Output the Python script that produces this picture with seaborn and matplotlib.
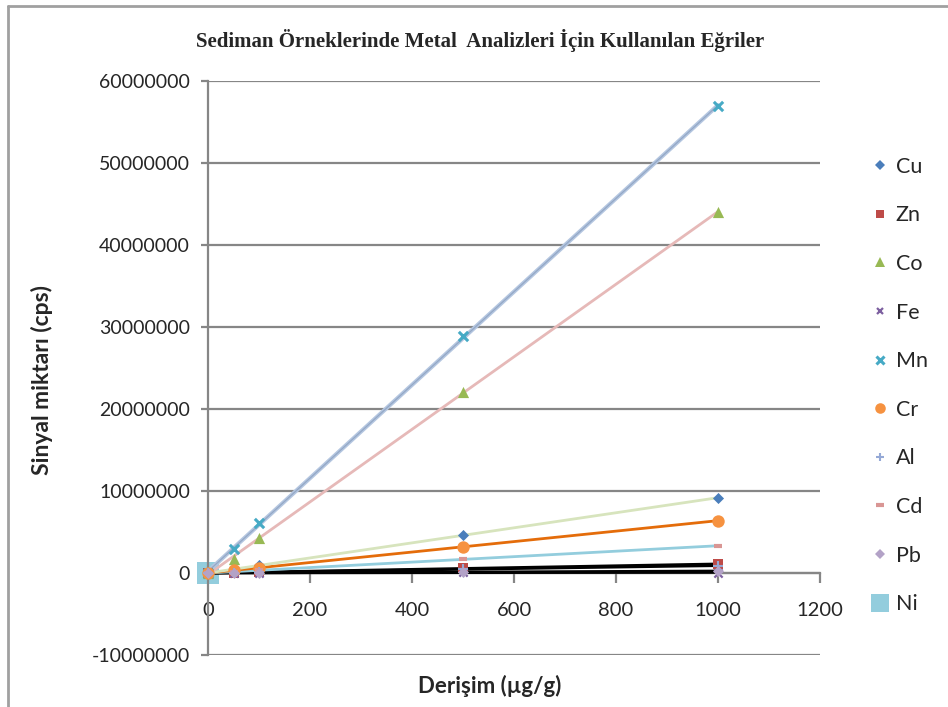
import numpy as np
import pandas as pd
import matplotlib
matplotlib.use("Agg")
import matplotlib.pyplot as plt
from matplotlib.lines import Line2D
import seaborn as sns

# ---- data ----
conc = [0, 50, 100, 500, 1000]
Cu = [0, 460000, 920000, 4600000, 9180000]
Zn = [0, 60000, 110000, 560000, 1100000]
Co = [0, 1700000, 4300000, 22100000, 44000000]
Fe = [0, 10000, 20000, 100000, 50000]
Mn = [0, 2950000, 6050000, 28900000, 56900000]
Cr = [0, 320000, 640000, 3200000, 6380000]
Al = [0, 45000, 90000, 450000, 900000]
Cd = [0, 165000, 330000, 1650000, 3330000]
Pb = [0, 12000, 24000, 120000, 240000]
Ni = [0, np.nan, np.nan, np.nan, np.nan]

series_names = ["Cu", "Zn", "Co", "Fe", "Mn", "Cr", "Al", "Cd", "Pb", "Ni"]
series_vals = [Cu, Zn, Co, Fe, Mn, Cr, Al, Cd, Pb, Ni]

title = "Sediman Örneklerinde Metal  Analizleri İçin Kullanılan Eğriler"
xlabel = "Derişim (µg/g)"
ylabel = "Sinyal miktarı (cps)"
yticks = [-10000000, 0, 10000000, 20000000, 30000000, 40000000, 50000000, 60000000]
xticks = [0, 200, 400, 600, 800, 1000, 1200]

# ---- styles ----
mstyle = {
    "Cu": dict(marker="D", color="#4A7EBB", s=32, lw=0),
    "Zn": dict(marker="s", color="#BE4B48", s=45, lw=0),
    "Co": dict(marker="^", color="#98B954", s=65, lw=0),
    "Fe": dict(marker="x", color="#7D60A0", s=35, lw=1.6),
    "Mn": dict(marker="x", color="#46AAC5", s=45, lw=2.2),
    "Cr": dict(marker="o", color="#F69240", s=80, lw=0),
    "Al": dict(marker="+", color="#95A9D6", s=45, lw=1.5),
    "Cd": dict(marker="_", color="#D99694", s=40, lw=3),
    "Pb": dict(marker="D", color="#B3A2C7", s=32, lw=0),
    "Ni": dict(marker="s", color="#93CDDD", s=250, lw=0),
}
trend_color = {
    "Mn": ("#B4C6E0", 3.0),
    "Co": ("#E6B9B8", 2.0),
    "Cu": ("#D7E4BD", 2.0),
    "Cr": ("#E46C0A", 2.0),
    "Cd": ("#93CDDD", 2.0),
    "Zn": ("#000000", 2.0),
    "Al": ("#000000", 2.0),
    "Pb": ("#000000", 2.0),
    "Fe": ("#000000", 2.0),
}

sns.set_theme(style="white")
plt.rcParams["font.family"] = ["Lato", "DejaVu Sans"]

W, H = 948, 707
fig = plt.figure(figsize=(W / 100, H / 100), dpi=100)
ax = fig.add_axes([208 / W, 1 - 655 / H, (820 - 208) / W, (655 - 81) / H])

df = pd.DataFrame({"x": conc})
for n, v in zip(series_names, series_vals):
    df[n] = v

# Ni big marker first (beneath lines)
st = mstyle["Ni"]
sns.scatterplot(data=df, x="x", y="Ni", marker=st["marker"], color=st["color"],
                s=st["s"], linewidth=0, ax=ax, zorder=2, legend=False)

# trendlines
for n in ["Fe", "Pb", "Al", "Zn", "Cd", "Cr", "Cu", "Co", "Mn"]:
    c, lw = trend_color[n]
    sns.regplot(data=df, x="x", y=n, scatter=False, ci=None, ax=ax,
                line_kws=dict(color=c, lw=lw, zorder=3))
# thin inner line for Mn trendline look
sns.regplot(data=df, x="x", y="Mn", scatter=False, ci=None, ax=ax,
            line_kws=dict(color="#94A8C6", lw=0.9, zorder=3))

# markers
for n in series_names[:-1]:
    st = mstyle[n]
    kw = dict(marker=st["marker"], s=st["s"], ax=ax, zorder=4, legend=False)
    if st["marker"] in ("x", "+", "_"):
        sns.scatterplot(data=df, x="x", y=n, color=st["color"], linewidth=st["lw"], **kw)
    else:
        sns.scatterplot(data=df, x="x", y=n, color=st["color"], linewidth=0, **kw)
for coll in ax.collections:
    coll.set_clip_on(False)

ax.set_xlim(0, 1200)
ax.set_ylim(-10000000, 60000000)
ax.set_yticks(yticks)
ax.set_yticklabels([str(t) for t in yticks])
ax.set_xticks(xticks)
ax.set_xticklabels([str(t) for t in xticks])

grid_c = "#868686"
for t in yticks:
    ax.axhline(t, color=grid_c, lw=1.6, zorder=1)

for s in ["top", "right"]:
    ax.spines[s].set_visible(False)
ax.spines["bottom"].set_position(("data", 0))
ax.spines["bottom"].set_color(grid_c)
ax.spines["bottom"].set_linewidth(1.6)
ax.spines["left"].set_color(grid_c)
ax.spines["left"].set_linewidth(1.6)
ax.tick_params(axis="x", direction="out", length=7, width=1.6, color=grid_c,
               labelsize=14.5, pad=14, bottom=True)
ax.tick_params(axis="y", direction="out", length=5, width=1.6, color=grid_c,
               labelsize=14, pad=8, left=True)
ax.set_xlabel("")
ax.set_ylabel("")

fig.text(490 / W, 1 - 686 / H, xlabel, ha="center", va="center",
         fontsize=16, fontweight="bold")
fig.text(42 / W, 1 - 380 / H, ylabel, ha="center", va="center",
         fontsize=16.5, fontweight="bold", rotation=90)
fig.text(480 / W, 1 - 40 / H, title, ha="center", va="center",
         fontsize=15, fontweight="bold", family=["Liberation Serif", "DejaVu Serif"])

# legend
handles = []
for n in series_names:
    st = mstyle[n]
    ms = np.sqrt(st["s"]) * (0.85 if n != "Ni" else 0.85)
    if st["marker"] in ("x", "+", "_"):
        h = Line2D([], [], ls="none", marker=st["marker"], color=st["color"],
                   markersize=ms, markeredgewidth=st["lw"])
    else:
        h = Line2D([], [], ls="none", marker=st["marker"], color=st["color"],
                   markersize=ms, markeredgewidth=0)
    handles.append(h)
fig.legend(handles, series_names, loc="upper left",
           bbox_to_anchor=(858 / W, 1 - 148 / H), frameon=False, fontsize=15.5,
           labelspacing=1.33, handletextpad=0.15, handlelength=1.2, borderaxespad=0)

# outer frame (top & left)
fc = "#A0A0A0"
fig.add_artist(Line2D([8 / W, 1], [1 - 6 / H, 1 - 6 / H], color=fc, lw=2,
                      transform=fig.transFigure))
fig.add_artist(Line2D([8 / W, 8 / W], [0, 1 - 6 / H], color=fc, lw=2,
                      transform=fig.transFigure))

fig.savefig("out.png", dpi=100)
